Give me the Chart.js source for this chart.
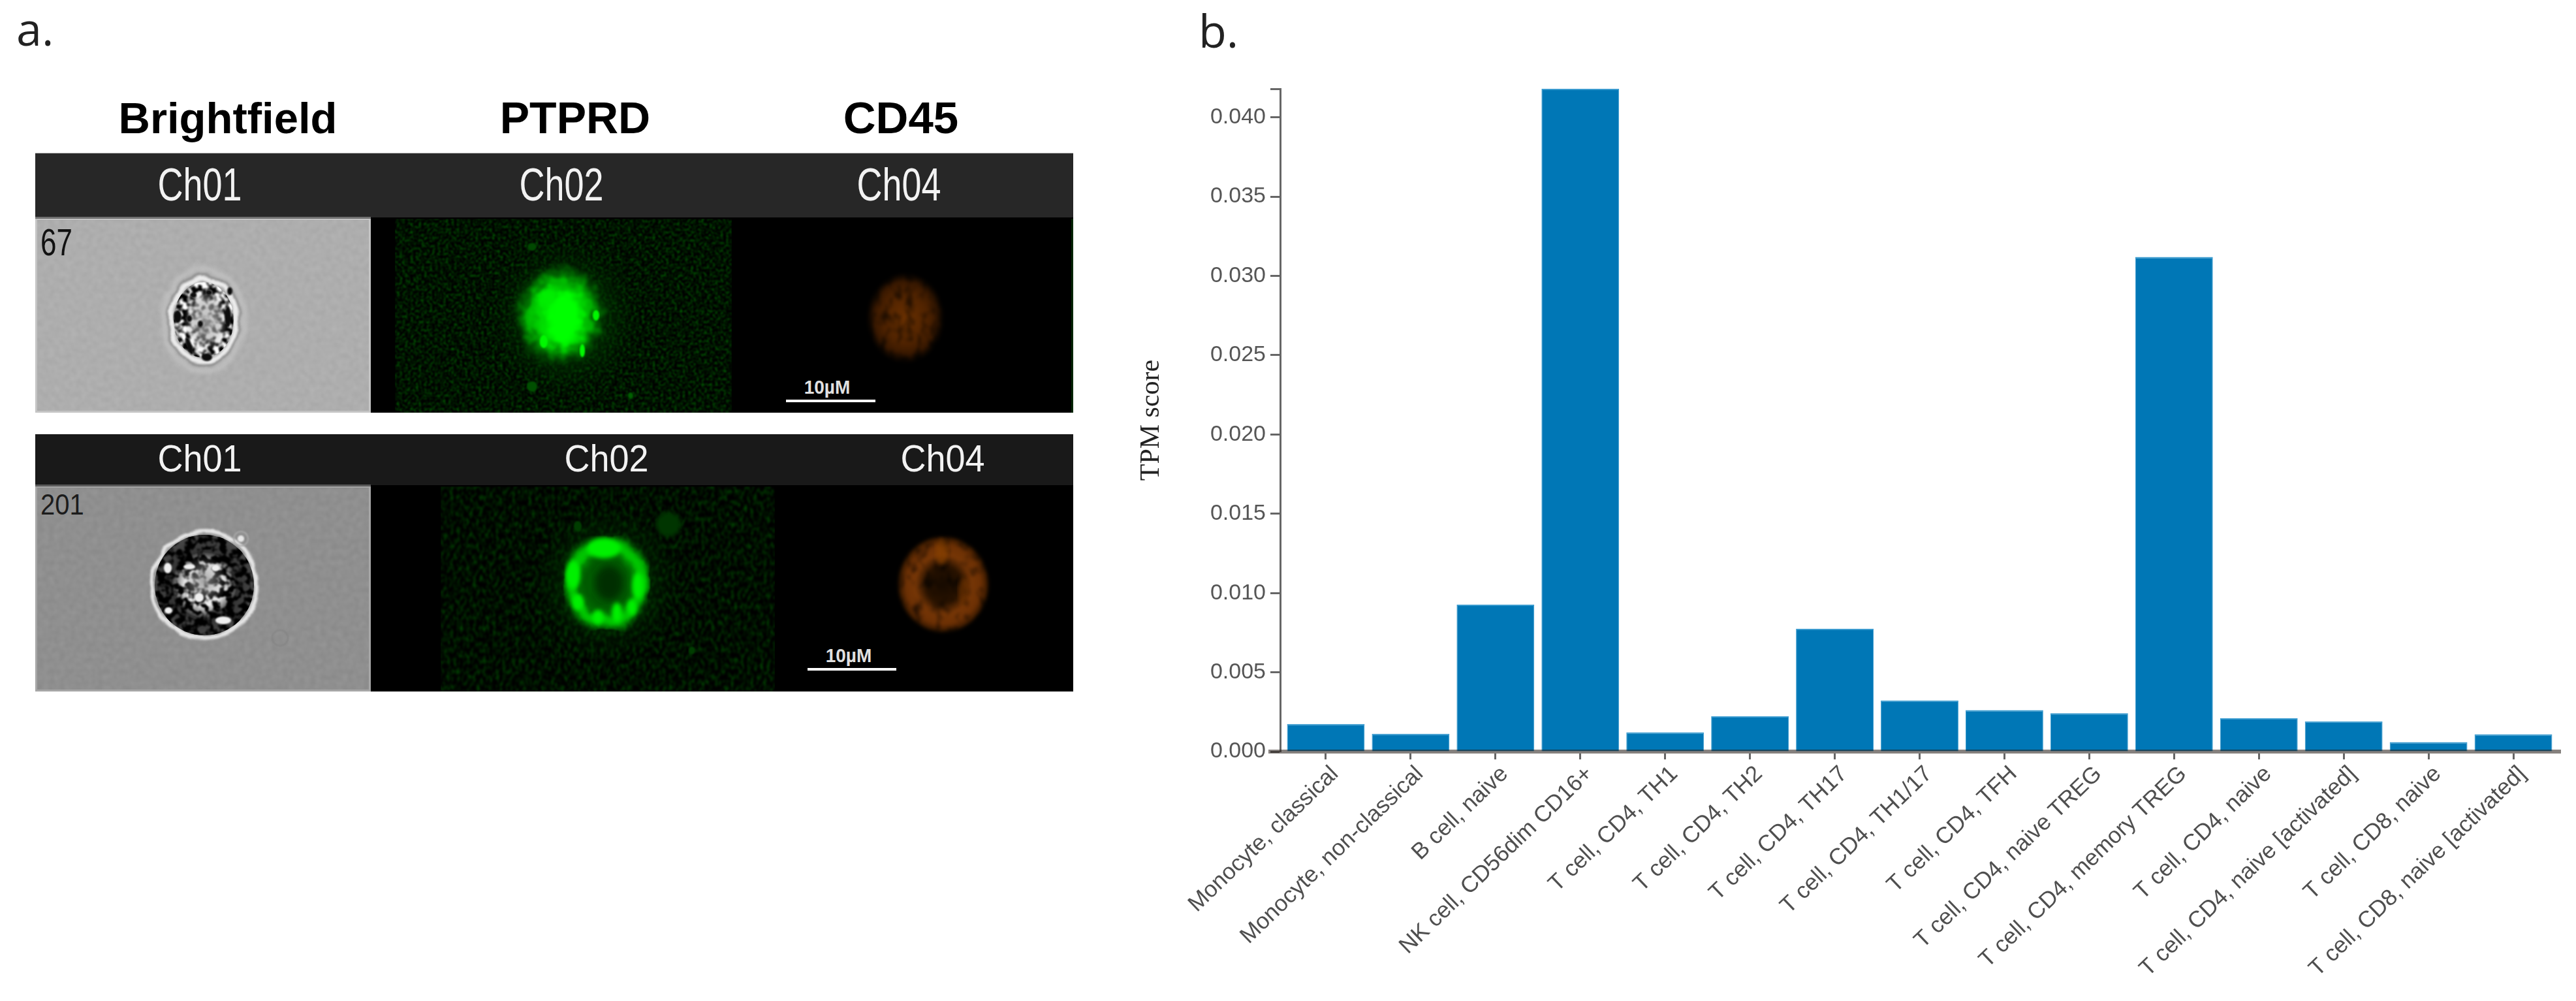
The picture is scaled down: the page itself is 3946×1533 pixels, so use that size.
<!DOCTYPE html>
<html><head><meta charset="utf-8">
<style>
html,body{margin:0;padding:0;background:#fff;width:3946px;height:1533px;overflow:hidden}
#panelA{position:absolute;left:0;top:0}
#chartWrap{position:absolute;left:1700px;top:0;width:2246px;height:1533px}
#panelB{position:absolute;left:1836px;top:81px;transform:translateY(-100%);font:70px "Open Sans",sans-serif;color:#222;line-height:1}
</style>
<script src="https://cdn.jsdelivr.net/npm/chart.js@4"></script>
</head><body>
<svg id="panelA" width="1700" height="1100" viewBox="0 0 1700 1100" xmlns="http://www.w3.org/2000/svg">
<defs>
<filter id="gn1" x="0" y="0" width="1" height="1" color-interpolation-filters="sRGB"><feTurbulence type="fractalNoise" baseFrequency="0.24" numOctaves="2" seed="4"/><feColorMatrix values="0 0 0 0 0  0.8 0 0 0 -0.33  0 0 0 0 0  0 0 0 0 1"/><feGaussianBlur stdDeviation="1"/></filter>
<filter id="gn2" x="0" y="0" width="1" height="1" color-interpolation-filters="sRGB"><feTurbulence type="fractalNoise" baseFrequency="0.2 0.12" numOctaves="2" seed="9"/><feColorMatrix values="0 0 0 0 0  0.6 0 0 0 -0.25  0 0 0 0 0  0 0 0 0 1"/><feGaussianBlur stdDeviation="1.6"/></filter>
<filter id="bf1" x="0" y="0" width="1" height="1" color-interpolation-filters="sRGB"><feTurbulence type="fractalNoise" baseFrequency="0.12" numOctaves="2" seed="7"/><feColorMatrix values="0.07 0 0 0 0.645  0.07 0 0 0 0.645  0.07 0 0 0 0.645  0 0 0 0 1"/><feGaussianBlur stdDeviation="1.5"/></filter>
<filter id="bf2" x="0" y="0" width="1" height="1" color-interpolation-filters="sRGB"><feTurbulence type="fractalNoise" baseFrequency="0.12" numOctaves="2" seed="12"/><feColorMatrix values="0.07 0 0 0 0.525  0.07 0 0 0 0.525  0.07 0 0 0 0.525  0 0 0 0 1"/><feGaussianBlur stdDeviation="1.5"/></filter>
<filter id="speck1" x="0" y="0" width="1" height="1" color-interpolation-filters="sRGB"><feTurbulence type="fractalNoise" baseFrequency="0.1" numOctaves="2" seed="21"/><feColorMatrix values="4 0 0 0 -1.45  4 0 0 0 -1.45  4 0 0 0 -1.45  0 0 0 0 1"/><feGaussianBlur stdDeviation="1.2"/><feComposite operator="in" in2="SourceAlpha"/></filter>
<filter id="speck2" x="0" y="0" width="1" height="1" color-interpolation-filters="sRGB"><feTurbulence type="fractalNoise" baseFrequency="0.095" numOctaves="2" seed="33"/><feColorMatrix values="6 0 0 0 -2.6  6 0 0 0 -2.6  6 0 0 0 -2.6  0 0 0 0 1"/><feGaussianBlur stdDeviation="1"/><feComposite operator="in" in2="SourceAlpha"/></filter>
<filter id="mottle1" x="-5%" y="-5%" width="110%" height="110%" color-interpolation-filters="sRGB"><feTurbulence type="fractalNoise" baseFrequency="0.08 0.05" numOctaves="2" seed="5" result="n"/><feColorMatrix in="n" values="0 0 0 0 0 0 0 0 0 0 0 0 0 0 0 1.9 0 0 0 -0.05" result="m"/><feComposite in="SourceGraphic" in2="m" operator="in"/><feGaussianBlur stdDeviation="2"/></filter>
<filter id="mottle2" x="-5%" y="-5%" width="110%" height="110%" color-interpolation-filters="sRGB"><feTurbulence type="fractalNoise" baseFrequency="0.07 0.05" numOctaves="2" seed="15" result="n"/><feColorMatrix in="n" values="0 0 0 0 0 0 0 0 0 0 0 0 0 0 0 1.9 0 0 0 0.02" result="m"/><feComposite in="SourceGraphic" in2="m" operator="in"/><feGaussianBlur stdDeviation="2"/></filter>
<filter id="rough" x="-20%" y="-20%" width="140%" height="140%" color-interpolation-filters="sRGB"><feTurbulence type="fractalNoise" baseFrequency="0.06" numOctaves="2" seed="3" result="n"/><feDisplacementMap in="SourceGraphic" in2="n" scale="22" xChannelSelector="R" yChannelSelector="G"/><feGaussianBlur stdDeviation="1"/></filter>
<filter id="roughS" x="-20%" y="-20%" width="140%" height="140%" color-interpolation-filters="sRGB"><feTurbulence type="fractalNoise" baseFrequency="0.035" numOctaves="2" seed="8" result="n"/><feDisplacementMap in="SourceGraphic" in2="n" scale="10" xChannelSelector="R" yChannelSelector="G"/><feGaussianBlur stdDeviation="0.8"/></filter>
<filter id="b1"><feGaussianBlur stdDeviation="1.2"/></filter>
<filter id="b3"><feGaussianBlur stdDeviation="3"/></filter>
<filter id="b6"><feGaussianBlur stdDeviation="6"/></filter>
<radialGradient id="gBlob"><stop offset="0" stop-color="#00f000"/><stop offset=".45" stop-color="#00d800"/><stop offset=".62" stop-color="#00b000"/><stop offset=".8" stop-color="#005a00" stop-opacity=".9"/><stop offset="1" stop-color="#002000" stop-opacity="0"/></radialGradient>
<radialGradient id="gHalo"><stop offset="0" stop-color="#005000"/><stop offset=".6" stop-color="#003800" stop-opacity=".8"/><stop offset="1" stop-color="#002000" stop-opacity="0"/></radialGradient>
<radialGradient id="oBlob1"><stop offset="0" stop-color="#6a3000"/><stop offset=".55" stop-color="#502300"/><stop offset=".8" stop-color="#381800"/><stop offset="1" stop-color="#200e00" stop-opacity="0"/></radialGradient>
<radialGradient id="oRing"><stop offset="0" stop-color="#160a00"/><stop offset=".38" stop-color="#281200"/><stop offset=".6" stop-color="#763606"/><stop offset=".8" stop-color="#6c3004"/><stop offset=".92" stop-color="#3f1c00"/><stop offset="1" stop-color="#200e00" stop-opacity="0"/></radialGradient>
<radialGradient id="bfDark"><stop offset="0" stop-color="#000" stop-opacity="0"/><stop offset=".4" stop-color="#000" stop-opacity=".05"/><stop offset=".66" stop-color="#000" stop-opacity=".8"/><stop offset="1" stop-color="#000" stop-opacity=".72"/></radialGradient>
<radialGradient id="bfGray"><stop offset="0" stop-color="#b4b4b4" stop-opacity=".8"/><stop offset=".6" stop-color="#a8a8a8" stop-opacity=".55"/><stop offset="1" stop-color="#a0a0a0" stop-opacity="0"/></radialGradient>
<radialGradient id="bfGray2"><stop offset="0" stop-color="#8c8c8c" stop-opacity=".8"/><stop offset=".55" stop-color="#999" stop-opacity=".4"/><stop offset="1" stop-color="#999" stop-opacity="0"/></radialGradient>
<clipPath id="clipG1"><rect x="605" y="335" width="516" height="297"/></clipPath>
<clipPath id="clipG2"><rect x="675" y="745" width="512" height="314"/></clipPath>
</defs>

<text x="25" y="70" font-family="Open Sans" font-size="70" fill="#222">a.</text>
<g font-family="Liberation Sans" font-weight="700" fill="#000" text-anchor="middle">
<text x="349" y="204" font-size="67">Brightfield</text>
<text x="881" y="204" font-size="68">PTPRD</text>
<text x="1380" y="204" font-size="69">CD45</text>
</g>

<!-- row 1 -->
<rect x="54" y="234" width="1590" height="101" fill="#272727"/>
<rect x="54" y="234" width="1590" height="1" fill="#b0b0b0"/>
<rect x="54" y="333" width="1590" height="299" fill="#000"/>
<rect x="54" y="335" width="514" height="297" filter="url(#bf1)"/>
<rect x="55.5" y="335.5" width="511" height="295" fill="none" stroke="#c4c4c4" stroke-width="3"/>
<rect x="54" y="332" width="514" height="3" fill="#707070"/>
<rect x="605" y="335" width="516" height="297" filter="url(#gn1)"/>
<rect x="1641" y="335" width="3" height="297" fill="#032503"/>
<g clip-path="url(#clipG1)">
<ellipse cx="866" cy="487" rx="115" ry="120" fill="url(#gHalo)" opacity=".6"/>
<g filter="url(#rough)">
<ellipse cx="858" cy="482" rx="76" ry="84" fill="url(#gBlob)"/>
<ellipse cx="864" cy="488" rx="26" ry="44" fill="#00ff00" filter="url(#b6)"/>
<ellipse cx="835" cy="455" rx="12" ry="14" fill="#00ee00" filter="url(#b3)"/>
</g>
<ellipse cx="913" cy="483" rx="5" ry="8" fill="#00f800" filter="url(#b1)"/>
<ellipse cx="833" cy="523" rx="6" ry="10" fill="#00f800" filter="url(#b1)"/>
<ellipse cx="892" cy="537" rx="4" ry="10" fill="#00f800" filter="url(#b1)"/>
<ellipse cx="815" cy="378" rx="7" ry="6" fill="#004a00" filter="url(#b1)"/>
<ellipse cx="815" cy="592" rx="8" ry="8" fill="#005000" filter="url(#b1)"/>
<ellipse cx="966" cy="606" rx="4" ry="5" fill="#006000" filter="url(#b1)"/>
</g>
<ellipse cx="1387" cy="487" rx="60" ry="70" fill="url(#oBlob1)" filter="url(#mottle1)"/>
<g filter="url(#roughS)">
<ellipse cx="312" cy="490" rx="62" ry="78" fill="none" stroke="#c4c4c4" stroke-width="6" filter="url(#b3)"/>
<ellipse cx="312" cy="490" rx="55" ry="69" fill="none" stroke="#8a8a8a" stroke-width="3" filter="url(#b1)"/>
<ellipse cx="312" cy="490" rx="50" ry="63" fill="none" stroke="#ececec" stroke-width="7" filter="url(#b1)"/>
</g>
<ellipse cx="312" cy="490" rx="46" ry="58" fill="#000" filter="url(#speck1)"/>
<ellipse cx="316" cy="490" rx="34" ry="48" fill="url(#bfGray)"/>
<g fill="#0a0a0a" filter="url(#b1)"><ellipse cx="272" cy="485" rx="6" ry="10"/><ellipse cx="349" cy="485" rx="5" ry="16"/><ellipse cx="317" cy="547" rx="8" ry="6"/><ellipse cx="290" cy="530" rx="4" ry="14" transform="rotate(-18 290 530)"/><ellipse cx="352" cy="446" rx="4" ry="6"/><ellipse cx="290" cy="488" rx="4" ry="5"/><ellipse cx="307" cy="496" rx="4" ry="5"/><ellipse cx="296" cy="452" rx="5" ry="4"/><ellipse cx="320" cy="448" rx="5" ry="4"/></g>
<text font-family="Liberation Sans" font-size="44" fill="#111" transform="translate(62 391) scale(1 1.3)">67</text>

<!-- row 2 -->
<rect x="54" y="665" width="1590" height="80" fill="#191919"/>
<rect x="54" y="743" width="1590" height="316" fill="#000"/>
<rect x="54" y="745" width="514" height="314" filter="url(#bf2)"/>
<rect x="55.5" y="745.5" width="511" height="312" fill="none" stroke="#a6a6a6" stroke-width="3"/>
<rect x="54" y="742" width="514" height="3" fill="#5a5a5a"/>
<rect x="675" y="745" width="512" height="314" filter="url(#gn2)"/>
<g clip-path="url(#clipG2)">
<ellipse cx="929" cy="893" rx="115" ry="120" fill="url(#gHalo)" opacity=".5"/>
<ellipse cx="931" cy="893" rx="44" ry="50" fill="#005a00" filter="url(#b3)"/>
<ellipse cx="933" cy="893" rx="22" ry="27" fill="#002f00" filter="url(#b6)"/>
<g filter="url(#roughS)">
<ellipse cx="929" cy="893" rx="54" ry="60" fill="none" stroke="#00b400" stroke-width="20" filter="url(#b6)"/>
<ellipse cx="929" cy="893" rx="54" ry="58" fill="none" stroke="#00c800" stroke-width="10" filter="url(#b3)"/>
</g>
<g fill="#00f000" filter="url(#b3)"><ellipse cx="925" cy="840" rx="26" ry="15"/><ellipse cx="878" cy="880" rx="11" ry="22"/><ellipse cx="977" cy="897" rx="9" ry="20"/><ellipse cx="885" cy="922" rx="9" ry="13"/><ellipse cx="945" cy="938" rx="8" ry="15"/><ellipse cx="916" cy="945" rx="9" ry="11"/><ellipse cx="968" cy="930" rx="7" ry="12"/></g>
<ellipse cx="1024" cy="803" rx="19" ry="19" fill="#003600" filter="url(#b3)"/>
<ellipse cx="885" cy="806" rx="6" ry="8" fill="#003d00" filter="url(#b1)"/>
<ellipse cx="1060" cy="996" rx="5" ry="6" fill="#003d00" filter="url(#b1)"/>
</g>
<ellipse cx="1445" cy="895" rx="72" ry="76" fill="url(#oRing)" filter="url(#mottle2)"/>
<ellipse cx="1443" cy="845" rx="10" ry="20" fill="#8a4206" opacity=".6" filter="url(#b3)"/>
<ellipse cx="1476" cy="905" rx="8" ry="22" fill="#7a3804" opacity=".5" filter="url(#b3)"/>
<g filter="url(#roughS)">
<ellipse cx="313" cy="896" rx="80" ry="81" fill="none" stroke="#e6e6e6" stroke-width="6" filter="url(#b1)"/>
</g>
<ellipse cx="313" cy="896" rx="76" ry="77" fill="#000" filter="url(#speck2)"/>
<ellipse cx="313" cy="896" rx="76" ry="77" fill="url(#bfDark)"/>
<ellipse cx="312" cy="890" rx="36" ry="38" fill="url(#bfGray2)"/>
<g fill="#f0f0f0" filter="url(#b1)"><ellipse cx="257" cy="870" rx="6" ry="8"/><ellipse cx="342" cy="950" rx="12" ry="6"/><ellipse cx="305" cy="915" rx="7" ry="7"/><ellipse cx="258" cy="935" rx="6" ry="5"/><ellipse cx="330" cy="870" rx="6" ry="5"/><ellipse cx="290" cy="868" rx="9" ry="4"/></g>
<circle cx="369" cy="825" r="5" fill="#e8e8e8" filter="url(#b1)"/>
<circle cx="369" cy="825" r="11" fill="none" stroke="#a8a8a8" stroke-width="2" filter="url(#b1)"/>
<circle cx="429" cy="977" r="12" fill="none" stroke="#848484" stroke-width="2" filter="url(#b1)"/>
<text font-family="Liberation Sans" font-size="40" fill="#1c1c1c" transform="translate(62 788) scale(1 1.1)">201</text>

<!-- header texts -->
<g font-family="Liberation Sans" font-size="54" fill="#f2f2f2" text-anchor="middle">
<text transform="translate(306 307) scale(1 1.29)">Ch01</text>
<text transform="translate(860 307) scale(1 1.29)">Ch02</text>
<text transform="translate(1377 307) scale(1 1.29)">Ch04</text>
<text transform="translate(306 722) scale(1 1.05)">Ch01</text>
<text transform="translate(929 722) scale(1 1.05)">Ch02</text>
<text transform="translate(1444 722) scale(1 1.05)">Ch04</text>
</g>
<g font-family="Liberation Sans" font-size="28" font-weight="700" fill="#e0e0e0" text-anchor="middle">
<text transform="translate(1267 603) scale(1 1.05)">10µM</text>
<text transform="translate(1300 1014) scale(1 1.05)">10µM</text>
</g>
<rect x="1204" y="612" width="137" height="4" fill="#fff"/>
<rect x="1237" y="1023" width="136" height="4" fill="#fff"/>
</svg>

<div id="panelB">b.</div>
<div id="chartWrap"><canvas id="chart" width="2246" height="1533"></canvas></div>

<script>
const categories = [
  "Monocyte, classical","Monocyte, non-classical","B cell, naive","NK cell, CD56dim CD16+",
  "T cell, CD4, TH1","T cell, CD4, TH2","T cell, CD4, TH17","T cell, CD4, TH1/17","T cell, CD4, TFH",
  "T cell, CD4, naive TREG","T cell, CD4, memory TREG","T cell, CD4, naive",
  "T cell, CD4, naive [activated]","T cell, CD8, naive","T cell, CD8, naive [activated]"
];
const tpmScores = [0.00174,0.00112,0.00927,0.0418,0.00121,0.00222,0.00774,0.00322,0.00262,0.00242,0.0312,0.0021,0.0019,0.0006,0.00109];
const yTickValues = [0,0.005,0.01,0.015,0.02,0.025,0.03,0.035,0.04,0.0418];
const yLabelled = [0,0.005,0.01,0.015,0.02,0.025,0.03,0.035,0.04];

const pinAxes = {
  id:'pinAxes',
  afterLayout(chart){
    const {x,y} = chart.scales;
    y.left -= 5; y.right -= 5;
    x.left -= 20; x.right += 7;
  }
};

new Chart(document.getElementById('chart'),{
  type:'bar',
  data:{labels:categories,datasets:[{
    data:tpmScores,
    backgroundColor:'#0077b6',
    borderColor:'#3a9bcf',
    borderWidth:{top:2,left:1,right:1,bottom:0},
    borderSkipped:false,
    barPercentage:0.915,
    categoryPercentage:1
  }]},
  plugins:[pinAxes],
  options:{
    responsive:false,animation:false,devicePixelRatio:1,
    layout:{padding:{left:0,top:136,right:31,bottom:0}},
    plugins:{legend:{display:false},tooltip:{enabled:false},title:{display:false}},
    scales:{
      x:{
        type:'category',
        afterFit(s){s.height=382;},
        border:{display:true,color:'rgba(40,30,25,0.56)',width:6,z:1},
        grid:{display:true,drawOnChartArea:false,drawTicks:true,tickLength:12,tickColor:'#666',tickWidth:3,offset:false},
        ticks:{autoSkip:false,maxRotation:44,minRotation:44,padding:2,labelOffset:14,color:'#4f4f4f',
          font:{family:'"Liberation Sans"',size:35}}
      },
      y:{
        min:0,max:0.0418,
        afterFit(s){s.width=266;},
        afterBuildTicks(s){s.ticks=yTickValues.map(v=>({value:v}));},
        border:{display:true,color:'#666',width:3},
        grid:{display:true,drawOnChartArea:false,drawTicks:true,tickLength:15,tickColor:'#666',tickWidth:3},
        ticks:{padding:7,color:'#555',font:{family:'"Liberation Sans"',size:34},
          callback(v){return yLabelled.includes(v)?v.toFixed(3):'';}},
        title:{display:true,text:'TPM score',color:'#222',align:'center',
          font:{family:'"Liberation Serif"',size:42},padding:{top:44,bottom:0}}
      }
    }
  }
});
</script>
</body></html>
